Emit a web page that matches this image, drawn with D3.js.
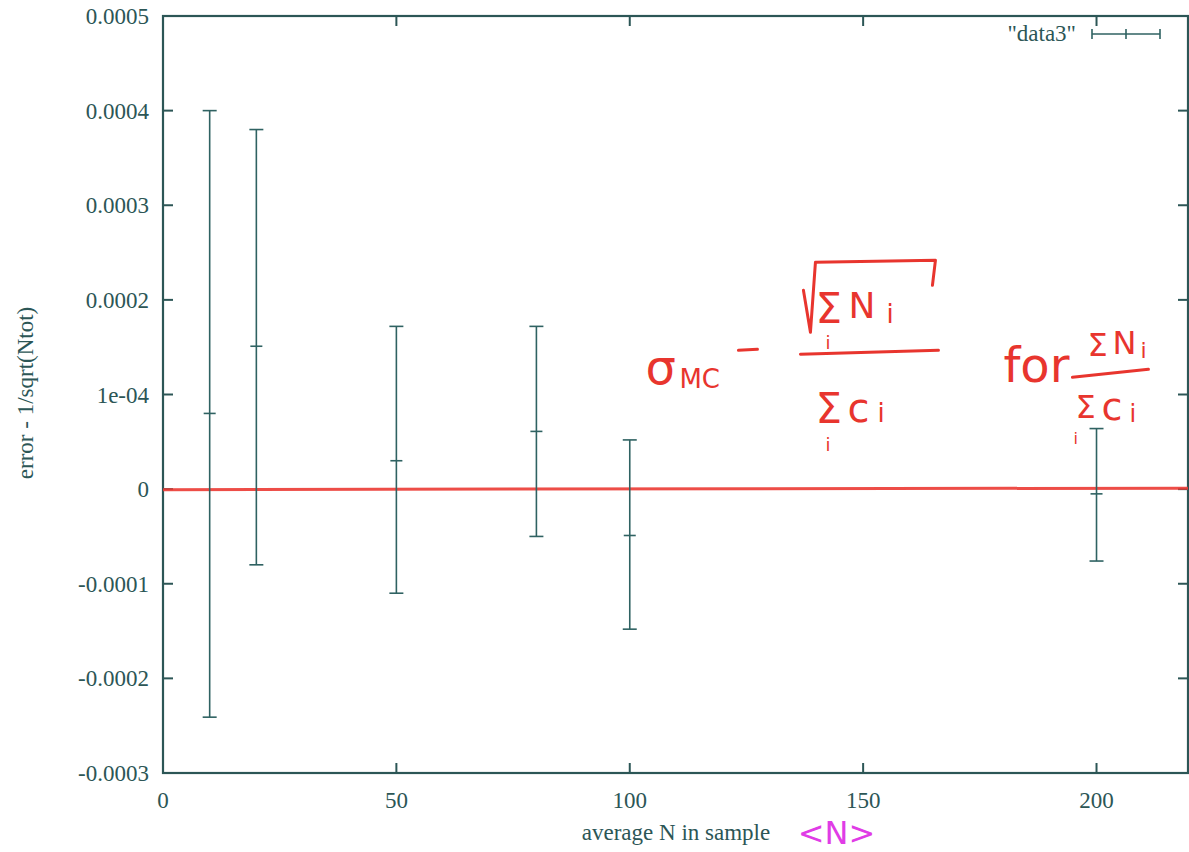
<!DOCTYPE html>
<html>
<head>
<meta charset="utf-8">
<script src="https://cdn.jsdelivr.net/npm/d3@7"></script>
<style>
  html, body { margin: 0; padding: 0; background: #fff; }
  svg { display: block; }
  .tick-label, .axis-title, .legend-text { font-family: "Liberation Serif", serif; fill: #2c5656; }
  .hand { font-family: "DejaVu Sans", sans-serif; fill: #e8352e; }
</style>
</head>
<body>
<svg width="1189" height="852"></svg>
<script>
'use strict';

// data
var xValues = [10, 20, 50, 80, 100, 200];
var yCenter = [0.80e-4, 1.51e-4, 0.30e-4, 0.61e-4, -0.49e-4, -0.05e-4];
var yLow    = [-2.41e-4, -0.80e-4, -1.10e-4, -0.50e-4, -1.48e-4, -0.76e-4];
var yHigh   = [4.00e-4, 3.80e-4, 1.72e-4, 1.72e-4, 0.52e-4, 0.64e-4];

var xTicks = [0, 50, 100, 150, 200];
var yTicks = [-0.0003, -0.0002, -0.0001, 0, 0.0001, 0.0002, 0.0003, 0.0004, 0.0005];
var yTickLabels = ['-0.0003', '-0.0002', '-0.0001', '0', '1e-04', '0.0002', '0.0003', '0.0004', '0.0005'];

var axisColor = '#2c5656',
    barColor = '#2f6262';

var svg = d3.select('svg');

var x = d3.scaleLinear().domain([0, 219.6]).range([163, 1188]);
var y = d3.scaleLinear().domain([-0.0003, 0.0005]).range([773, 16]);

var plotLeft = x(0), plotRight = x.range()[1],
    plotTop = y(0.0005), plotBottom = y(-0.0003);
var tickLen = 10;

// frame
svg.append('rect')
    .attr('x', plotLeft).attr('y', plotTop)
    .attr('width', plotRight - plotLeft).attr('height', plotBottom - plotTop)
    .attr('fill', 'none').attr('stroke', axisColor).attr('stroke-width', 2.2);

// y ticks (inward, mirrored)
var gy = svg.append('g');
yTicks.forEach(function (v, i) {
    var yy = y(v);
    if (i > 0 && i < yTicks.length - 1) {
        gy.append('line').attr('x1', plotLeft).attr('x2', plotLeft + tickLen)
            .attr('y1', yy).attr('y2', yy).attr('stroke', axisColor).attr('stroke-width', 2);
        gy.append('line').attr('x1', plotRight - tickLen).attr('x2', plotRight)
            .attr('y1', yy).attr('y2', yy).attr('stroke', axisColor).attr('stroke-width', 2);
    }
    gy.append('text').attr('class', 'tick-label')
        .attr('x', plotLeft - 14).attr('y', yy + 8)
        .attr('text-anchor', 'end').attr('font-size', 23)
        .text(yTickLabels[i]);
});

// x ticks (inward, mirrored)
var gx = svg.append('g');
xTicks.forEach(function (v) {
    var xx = x(v);
    if (v > 0) {
        gx.append('line').attr('x1', xx).attr('x2', xx)
            .attr('y1', plotBottom).attr('y2', plotBottom - tickLen).attr('stroke', axisColor).attr('stroke-width', 2);
        gx.append('line').attr('x1', xx).attr('x2', xx)
            .attr('y1', plotTop).attr('y2', plotTop + tickLen).attr('stroke', axisColor).attr('stroke-width', 2);
    }
    gx.append('text').attr('class', 'tick-label')
        .attr('x', xx).attr('y', plotBottom + 35)
        .attr('text-anchor', 'middle').attr('font-size', 23)
        .text(v);
});

// axis titles
svg.append('text').attr('class', 'axis-title')
    .attr('x', 676).attr('y', 840)
    .attr('text-anchor', 'middle').attr('font-size', 23)
    .text('average N in sample');

svg.append('text').attr('class', 'axis-title')
    .attr('transform', 'translate(33,393) rotate(-90)')
    .attr('text-anchor', 'middle').attr('font-size', 23)
    .text('error - 1/sqrt(Ntot)');

// hand-drawn red line at zero
svg.append('line')
    .attr('x1', plotLeft).attr('x2', plotRight)
    .attr('y1', y(0) + 0.5).attr('y2', y(0) - 1)
    .attr('stroke', '#ec3a34').attr('stroke-width', 3).attr('opacity', 0.9);

// error bars
var cap = 7, mid = 6;
var bars = svg.append('g').selectAll('g')
    .data(xValues.map(function (v, i) {
        return { x: v, c: yCenter[i], lo: yLow[i], hi: yHigh[i] };
    }))
    .enter().append('g')
    .attr('stroke', barColor).attr('stroke-width', 1.6);

bars.append('line')
    .attr('x1', function (d) { return x(d.x); }).attr('x2', function (d) { return x(d.x); })
    .attr('y1', function (d) { return y(d.lo); }).attr('y2', function (d) { return y(d.hi); });
bars.append('line')
    .attr('x1', function (d) { return x(d.x) - cap; }).attr('x2', function (d) { return x(d.x) + cap; })
    .attr('y1', function (d) { return y(d.hi); }).attr('y2', function (d) { return y(d.hi); });
bars.append('line')
    .attr('x1', function (d) { return x(d.x) - cap; }).attr('x2', function (d) { return x(d.x) + cap; })
    .attr('y1', function (d) { return y(d.lo); }).attr('y2', function (d) { return y(d.lo); });
bars.append('line')
    .attr('x1', function (d) { return x(d.x) - mid; }).attr('x2', function (d) { return x(d.x) + mid; })
    .attr('y1', function (d) { return y(d.c); }).attr('y2', function (d) { return y(d.c); });

// legend
var legY = 34;
svg.append('text').attr('class', 'legend-text')
    .attr('x', 1076).attr('y', legY + 7)
    .attr('text-anchor', 'end').attr('font-size', 23)
    .text('"data3"');
var leg = svg.append('g').attr('stroke', barColor).attr('stroke-width', 1.6);
leg.append('line').attr('x1', 1092).attr('x2', 1160).attr('y1', legY).attr('y2', legY);
[1092, 1126, 1160].forEach(function (lx) {
    leg.append('line').attr('x1', lx).attr('x2', lx).attr('y1', legY - 5).attr('y2', legY + 5);
});

// handwritten annotation (red marker) anchored in data coordinates
var ax = x(105.5), ay = y(1.15e-4);
var hand = svg.append('g').attr('transform', 'translate(' + ax + ',' + ay + ')');
function htext(dx, dy, size, str) {
    hand.append('text').attr('class', 'hand')
        .attr('x', dx).attr('y', dy).attr('font-size', size).text(str);
}
function hpath(pts) {
    hand.append('path').attr('d', d3.line()(pts))
        .attr('fill', 'none').attr('stroke', '#e8352e').attr('stroke-width', 3)
        .attr('stroke-linecap', 'round').attr('stroke-linejoin', 'round');
}
htext(-10, 4, 48, 'σ');
htext(24, 8, 26, 'MC');
hpath([[83, -30], [102, -31]]);
// radical over sum N_i
hpath([[148, -90], [155, -48], [160, -118], [280, -120], [277, -95]]);
htext(160, -57, 42, 'Σ');
htext(193, -62, 36, 'N');
htext(231, -57, 26, 'i');
htext(170, -31, 18, 'i');
hpath([[145, -26], [283, -30]]);
htext(160, 43, 42, 'Σ');
htext(192, 42, 40, 'c');
htext(222, 42, 26, 'i');
htext(170, 71, 18, 'i');
// "for" condition
htext(348, 2, 48, 'for');
htext(432, -24, 32, 'Σ');
htext(457, -26, 32, 'N');
htext(485, -22, 22, 'i');
hpath([[417, -3], [493, -11]]);
htext(420, 38, 32, 'Σ');
htext(446, 40, 38, 'c');
htext(474, 42, 24, 'i');
htext(418, 64, 16, 'i');

// magenta <N> beside x title
svg.append('text')
    .attr('x', x(136)).attr('y', 844)
    .attr('font-family', 'DejaVu Sans, sans-serif').attr('font-size', 32)
    .attr('fill', '#e03ce6')
    .text('<N>');
</script>
</body>
</html>
